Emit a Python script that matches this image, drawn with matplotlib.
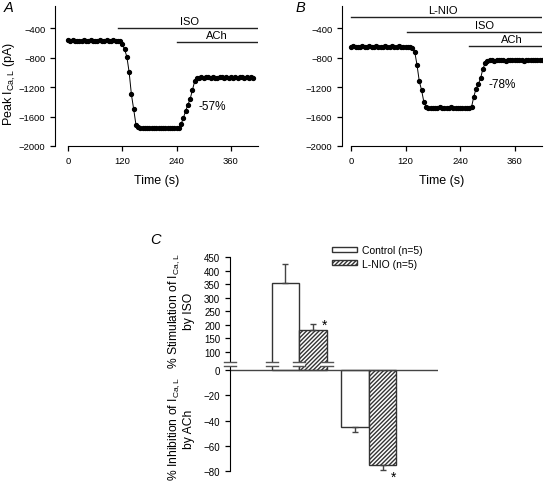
#!/usr/bin/env python3

import numpy as np
import matplotlib
matplotlib.use('Agg')
import matplotlib.pyplot as plt
from matplotlib.lines import Line2D
from matplotlib.patches import Rectangle, Patch

plt.rcParams['font.family'] = ['Liberation Sans', 'DejaVu Sans']
plt.rcParams['mathtext.fontset'] = 'custom'
plt.rcParams['mathtext.rm'] = 'Liberation Sans'
plt.rcParams['mathtext.it'] = 'Liberation Sans:italic'
plt.rcParams['hatch.linewidth'] = 1.0
plt.rcParams['hatch.color'] = 'black'

W, H = 545, 485

# ---- panel A: ISO then ACh (control)
t_a = np.arange(0, 415, 5)
ical_a = [
    -568, -572, -566, -570, -574, -569, -571, -567, -573, -570, -568, -572,
    -575, -569, -566, -571, -573, -568, -570, -572, -567, -569, -574, -571,
    -620, -690, -790, -1000, -1300, -1500, -1710, -1745, -1752,
    -1755, -1758, -1752, -1756, -1760, -1754, -1757, -1753, -1759, -1755,
    -1752, -1757, -1754, -1758, -1756, -1753, -1750,
    -1700, -1620, -1520, -1440, -1360, -1240, -1120, -1080,
    -1072, -1068, -1075, -1070, -1066, -1073, -1069, -1071, -1076, -1067,
    -1070, -1074, -1068, -1072, -1065, -1071, -1069, -1074, -1067, -1070,
    -1073, -1068, -1071, -1066, -1072,
]
drugs_a = ['ISO', 'ACh']
drug_start_a = [110, 240]
drug_label_t_a = [268, 330]
pct_a = '-57%'

# ---- panel B: L-NIO, then ISO, then ACh
t_b = np.arange(0, 425, 5)
ical_b = [
    -652, -648, -655, -650, -653, -647, -651, -656, -649, -652, -654, -648,
    -650, -655, -651, -647, -653, -650, -649, -654, -652, -648, -651, -655,
    -650, -653, -660,
    -670, -720, -900, -1120, -1240, -1400, -1465, -1478,
    -1482, -1478, -1485, -1480, -1476, -1483, -1479, -1484, -1481, -1477,
    -1482, -1486, -1479, -1483, -1480, -1478, -1485, -1488,
    -1470, -1330, -1220, -1160, -1080, -950, -880, -850,
    -838, -832, -840, -835, -829, -837, -833, -841, -836, -830, -838, -834,
    -839, -831, -836, -840, -833, -837, -830, -835, -839, -832, -836, -834,
]
drugs_b = ['L-NIO', 'ISO', 'ACh']
drug_start_b = [0, 123, 260]
drug_label_t_b = [203, 293, 353]
pct_b = '-78%'

# ---- panel C: summary bars
groups = ['Control (n=5)', 'L-NIO (n=5)']
stim_iso = [355, 180]
stim_iso_err = [68, 25]
inhib_ach = [-45, -75]
inhib_ach_err = [4, 4]


def px_axes(fig, l, t, r, b):
    return fig.add_axes([l / W, 1 - b / H, (r - l) / W, (b - t) / H])


def trace_panel(ax, t, vs, drugs, starts, label_ts, line_ys, pct, pct_xy, xmin):
    ax.plot(t, vs, color='black', lw=0.7, marker='o', ms=2.8, mfc='black', mec='black')
    ax.set_xlim((xmin, 420))
    ax.set_ylim((-2000, -100))
    ax.spines['top'].set_visible(False)
    ax.spines['right'].set_visible(False)
    ax.spines['bottom'].set_bounds(0, 420)
    ax.set_xticks([0, 120, 240, 360])
    ax.set_yticks([-2000, -1600, -1200, -800, -400])
    ax.tick_params(labelsize=6.8, length=3.5, width=0.9)
    ax.set_xlabel('Time (s)', fontsize=9, labelpad=7)
    for name, s, lt, ly in zip(drugs, starts, label_ts, line_ys):
        ax.plot([s, 420], [ly, ly], color='#222222', lw=1.0)
        ax.text(lt, ly + 25, name, ha='center', va='bottom', fontsize=8)
    ax.text(pct_xy[0], pct_xy[1], pct, ha='left', va='center', fontsize=8.5)


fig = plt.figure(figsize=(W / 100, H / 100), dpi=100)

axA = px_axes(fig, 55, 7, 258, 147)
trace_panel(axA, t_a, ical_a, drugs_a, drug_start_a, drug_label_t_a, [-400, -590],
            pct_a, (288, -1460), -29)
axA.set_ylabel('Peak I$_{\\mathrm{Ca,L}}$ (pA)', fontsize=9)
axA.yaxis.set_label_coords(-0.18, 0.45)

axB = px_axes(fig, 342, 7, 542, 147)
trace_panel(axB, t_b, ical_b, drugs_b, drug_start_b, drug_label_t_b, [-250, -455, -645],
            pct_b, (302, -1160), -20)

fig.text(4 / W, 1 - 8 / H, 'A', fontsize=10.5, style='italic', ha='left', va='center')
fig.text(296 / W, 1 - 8 / H, 'B', fontsize=10.5, style='italic', ha='left', va='center')

# ---- panel C, broken y axis: two stacked axes
axT = px_axes(fig, 230, 258, 438, 365)
axL = px_axes(fig, 230, 365, 438, 472)

centers = np.array([1.0, 2.0])
bw = 0.4
styles = [dict(facecolor='white', edgecolor='#333333', hatch=None),
          dict(facecolor='white', edgecolor='#333333', hatch='////////')]

for ax in (axT, axL):
    for i, st in enumerate(styles):
        x = centers + (i - 0.5) * bw
        ax.bar(x, [stim_iso[i], inhib_ach[i]], width=bw, lw=1.0, **st)
        ax.errorbar([x[0]], [stim_iso[i]], yerr=[[0], [stim_iso_err[i]]], fmt='none',
                    ecolor='#444444', elinewidth=1, capsize=2.5)
        ax.errorbar([x[1]], [inhib_ach[i]], yerr=[[inhib_ach_err[i]], [0]], fmt='none',
                    ecolor='#444444', elinewidth=1, capsize=2.5)
    ax.set_xlim((0, 3))
    ax.set_xticks([])
    for s in ('top', 'right', 'bottom'):
        ax.spines[s].set_visible(False)
    ax.tick_params(labelsize=7, length=3.5, width=0.9)

axT.set_ylim((55.8, 450))
axT.set_yticks(range(100, 451, 50))
axL.set_ylim((-80, 4.8))
axL.set_yticks([-80, -60, -40, -20, 0])
axL.axhline(0, color='#444444', lw=1.0)

axT.annotate('*', xy=(centers[0] + 0.5 * bw, stim_iso[1]), xytext=(8, 4),
             textcoords='offset points', fontsize=10, ha='center', va='center')
axL.annotate('*', xy=(centers[1] + 0.5 * bw, inhib_ach[1]), xytext=(8, -9),
             textcoords='offset points', fontsize=10, ha='center', va='center')

axT.set_ylabel('% Stimulation of I$_{\\mathrm{Ca,L}}$\nby ISO', fontsize=8.7,
               linespacing=1.1)
axT.yaxis.set_label_coords(-0.17, 0.5)
axL.set_ylabel('% Inhibition of I$_{\\mathrm{Ca,L}}$\nby ACh', fontsize=8.7,
               linespacing=1.1)
axL.yaxis.set_label_coords(-0.17, 0.4)
fig.text(150 / W, 1 - 240 / H, 'C', fontsize=10.5, style='italic', ha='left', va='center')

# axis-break marks on the y axis and on the bar edges
y_brk = H - 365
for xe in [0.0, centers[0] - bw, centers[0], centers[0] + bw]:
    xd = axL.transData.transform((xe, 0))[0]
    fig.add_artist(Rectangle((xd - 6, y_brk - 2), 12, 4, transform=None,
                             facecolor='white', edgecolor='none', zorder=5))
    for dy in (-2, 2):
        fig.add_artist(Line2D([xd - 6, xd + 6], [y_brk + dy, y_brk + dy], transform=None,
                              color='#555555', lw=1.0, zorder=6))

handles = [Patch(label=g, lw=1.0, **st) for g, st in zip(groups, styles)]
axT.legend(handles=handles, loc='upper left', bbox_to_anchor=(332 / W, 1 - 246 / H),
           bbox_transform=fig.transFigure, frameon=False, fontsize=7.5,
           handlelength=2.4, handleheight=0.35, handletextpad=0.5, labelspacing=0.35,
           borderpad=0, borderaxespad=0)

fig.savefig('out.png', dpi=100)
